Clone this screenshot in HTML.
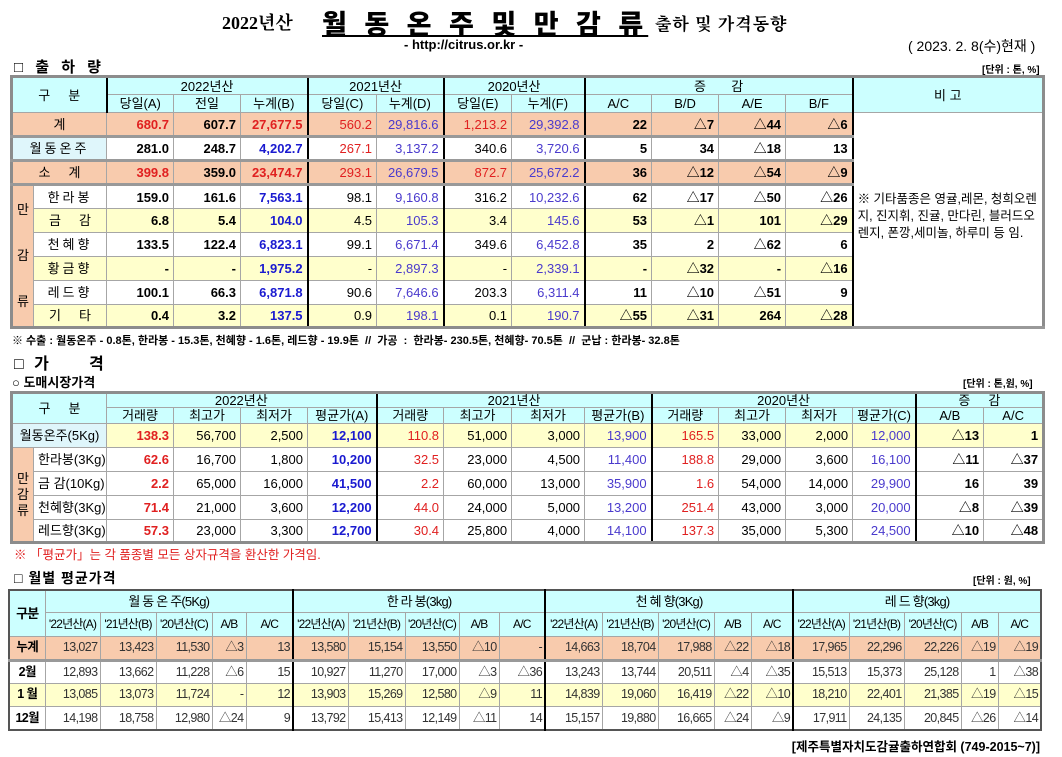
<!DOCTYPE html>
<html><head><meta charset="utf-8">
<style>
*{margin:0;padding:0;box-sizing:border-box}
body{width:1062px;height:757px;background:#fff;position:relative;overflow:hidden;font-family:"Liberation Sans","Noto Sans CJK KR",sans-serif;color:#000}
.a{position:absolute;white-space:nowrap}
table{position:absolute;border-collapse:collapse;table-layout:fixed;font-size:13px}
td{border:1px solid #a6a6a6;padding:0 4px;text-align:right;overflow:hidden;white-space:nowrap;line-height:1}
.h{background:#ccffff;text-align:center;font-size:13px}
.c{text-align:center}
.pk td{background:#f8cbad}
.yl td{background:#ffffcc}
.r{color:#e02020}.b{color:#1a1ad0}.bn{color:#4a3acd}.B{font-weight:bold}
.tk{border-right:2px solid #000}
.sep td{border-bottom:3px solid #999}
.lbl{background:#f8cbad;text-align:center;font-size:13px}
.t3 td{font-size:12.5px;color:#333;padding:0 2px;letter-spacing:-0.6px}
.t3 .h{color:#000;font-size:12px;letter-spacing:-0.8px}
</style></head><body>

<div class="a" style="left:222px;top:9px;font-size:18px;font-weight:bold;font-family:'Liberation Serif','Noto Serif CJK SC',serif">2022년산</div>
<div class="a" style="left:322px;top:3px;font-size:27px;font-weight:900;letter-spacing:5px;text-decoration:underline;text-decoration-thickness:2px">월 동 온 주 및 만 감 류</div>
<div class="a" style="left:655px;top:10px;font-size:17px;font-weight:bold;font-family:'Noto Serif CJK SC',serif;letter-spacing:1px">출하 및 가격동향</div>
<div class="a" style="left:404px;top:37px;font-size:13px;font-weight:bold">- http://citrus.or.kr -</div>
<div class="a" style="left:908px;top:36px;font-size:14px">( 2023. 2. 8(수)현재 )</div>

<div class="a" style="left:14px;top:56px;font-size:15px;font-weight:bold;letter-spacing:4px">□ 출 하 량</div>
<div class="a" style="left:982px;top:61px;font-size:10px;font-weight:bold">[단위 : 톤, %]</div>

<table style="left:10px;top:75px;width:1032px;border:3px solid #8c8c8c">
<colgroup><col style="width:22px"><col style="width:73px"><col style="width:67px"><col style="width:67px"><col style="width:67px"><col style="width:69px"><col style="width:67px"><col style="width:68px"><col style="width:73px"><col style="width:67px"><col style="width:67px"><col style="width:67px"><col style="width:67px"><col style="width:191px"></colgroup>
<tr style="height:18px"><td class="h tk" colspan="2" rowspan="2">구 &nbsp; &nbsp; 분</td><td class="h tk" colspan="3">2022년산</td><td class="h tk" colspan="2">2021년산</td><td class="h tk" colspan="2">2020년산</td><td class="h tk" colspan="4">증 &nbsp; &nbsp; &nbsp; 감</td><td class="h" rowspan="2">비 고</td></tr>
<tr style="height:18px"><td class="h">당일(A)</td><td class="h">전일</td><td class="h tk">누계(B)</td><td class="h">당일(C)</td><td class="h tk">누계(D)</td><td class="h">당일(E)</td><td class="h tk">누계(F)</td><td class="h">A/C</td><td class="h">B/D</td><td class="h">A/E</td><td class="h tk">B/F</td></tr>
<tr class="pk sep" style="height:24px"><td class="c" colspan="2">계</td><td class="r B">680.7</td><td class="B">607.7</td><td class="r B tk">27,677.5</td><td class="r">560.2</td><td class="bn tk">29,816.6</td><td class="r">1,213.2</td><td class="bn tk">29,392.8</td><td class="B">22</td><td class="B">△7</td><td class="B">△44</td><td class="B tk">△6</td><td rowspan="9" style="background:#fff;text-align:left;vertical-align:top;padding:78px 3px 0 4px;white-space:normal;line-height:17px;font-size:12.5px">※ 기타품종은 영귤,레몬, 청희오렌지, 진지휘, 진귤, 만다린, 블러드오렌지, 폰깡,세미놀, 하루미 등 임.</td></tr>
<tr class="sep" style="height:24px"><td class="c" colspan="2" style="background:#dff6fb;letter-spacing:3px">월동온주</td><td class="B">281.0</td><td class="B">248.7</td><td class="b B tk">4,202.7</td><td class="r">267.1</td><td class="bn tk">3,137.2</td><td>340.6</td><td class="bn tk">3,720.6</td><td class="B">5</td><td class="B">34</td><td class="B">△18</td><td class="B tk">13</td></tr>
<tr class="pk sep" style="height:24px"><td class="c" colspan="2">소 &nbsp; &nbsp; 계</td><td class="r B">399.8</td><td class="B">359.0</td><td class="r B tk">23,474.7</td><td class="r">293.1</td><td class="bn tk">26,679.5</td><td class="r">872.7</td><td class="bn tk">25,672.2</td><td class="B">36</td><td class="B">△12</td><td class="B">△54</td><td class="B tk">△9</td></tr>
<tr style="height:24px"><td class="lbl" rowspan="6" style="line-height:46px;padding:0">만<br>감<br>류</td><td class="c" style="letter-spacing:3px">한라봉</td><td class="B">159.0</td><td class="B">161.6</td><td class="b B tk">7,563.1</td><td>98.1</td><td class="bn tk">9,160.8</td><td>316.2</td><td class="bn tk">10,232.6</td><td class="B">62</td><td class="B">△17</td><td class="B">△50</td><td class="B tk">△26</td></tr>
<tr class="yl" style="height:24px"><td class="c">금 &nbsp; &nbsp; 감</td><td class="B">6.8</td><td class="B">5.4</td><td class="b B tk">104.0</td><td>4.5</td><td class="bn tk">105.3</td><td>3.4</td><td class="bn tk">145.6</td><td class="B">53</td><td class="B">△1</td><td class="B">101</td><td class="B tk">△29</td></tr>
<tr style="height:24px"><td class="c" style="letter-spacing:3px">천혜향</td><td class="B">133.5</td><td class="B">122.4</td><td class="b B tk">6,823.1</td><td>99.1</td><td class="bn tk">6,671.4</td><td>349.6</td><td class="bn tk">6,452.8</td><td class="B">35</td><td class="B">2</td><td class="B">△62</td><td class="B tk">6</td></tr>
<tr class="yl" style="height:24px"><td class="c" style="letter-spacing:3px">황금향</td><td class="B">-</td><td class="B">-</td><td class="b B tk">1,975.2</td><td>-</td><td class="bn tk">2,897.3</td><td>-</td><td class="bn tk">2,339.1</td><td class="B">-</td><td class="B">△32</td><td class="B">-</td><td class="B tk">△16</td></tr>
<tr style="height:24px"><td class="c" style="letter-spacing:3px">레드향</td><td class="B">100.1</td><td class="B">66.3</td><td class="b B tk">6,871.8</td><td>90.6</td><td class="bn tk">7,646.6</td><td>203.3</td><td class="bn tk">6,311.4</td><td class="B">11</td><td class="B">△10</td><td class="B">△51</td><td class="B tk">9</td></tr>
<tr class="yl" style="height:23px"><td class="c">기 &nbsp; &nbsp; 타</td><td class="B">0.4</td><td class="B">3.2</td><td class="b B tk">137.5</td><td>0.9</td><td class="bn tk">198.1</td><td>0.1</td><td class="bn tk">190.7</td><td class="B">△55</td><td class="B">△31</td><td class="B">264</td><td class="B tk">△28</td></tr>
</table>

<div class="a" style="left:12px;top:332px;font-size:11px;font-weight:bold">※ 수출 : 월동온주 - 0.8톤, 한라봉 - 15.3톤, 천혜향 - 1.6톤, 레드향 - 19.9톤 &nbsp;// &nbsp;가공 &nbsp;: &nbsp;한라봉- 230.5톤, 천혜향- 70.5톤 &nbsp;// &nbsp;군납 : 한라봉- 32.8톤</div>
<div class="a" style="left:14px;top:350px;font-size:16px;font-weight:bold;letter-spacing:3px">□ 가 &nbsp; &nbsp; 격</div>
<div class="a" style="left:12px;top:372px;font-size:13px;font-weight:bold">○ 도매시장가격</div>
<div class="a" style="left:963px;top:375px;font-size:10px;font-weight:bold">[단위 : 톤,원, %]</div>

<table style="left:10px;top:391px;width:1032px;border:3px solid #8c8c8c">
<colgroup><col style="width:22px"><col style="width:73px"><col style="width:67px"><col style="width:67px"><col style="width:67px"><col style="width:69px"><col style="width:67px"><col style="width:68px"><col style="width:73px"><col style="width:67px"><col style="width:67px"><col style="width:67px"><col style="width:67px"><col style="width:63px"><col style="width:68px"><col style="width:60px"></colgroup>
<tr style="height:15px"><td class="h" colspan="2" rowspan="2">구 &nbsp; &nbsp; 분</td><td class="h tk" colspan="4">2022년산</td><td class="h tk" colspan="4">2021년산</td><td class="h tk" colspan="4">2020년산</td><td class="h" colspan="2">증 &nbsp; &nbsp; 감</td></tr>
<tr style="height:16px"><td class="h">거래량</td><td class="h">최고가</td><td class="h">최저가</td><td class="h tk">평균가(A)</td><td class="h">거래량</td><td class="h">최고가</td><td class="h">최저가</td><td class="h tk">평균가(B)</td><td class="h">거래량</td><td class="h">최고가</td><td class="h">최저가</td><td class="h tk">평균가(C)</td><td class="h" style="border-right:1px dotted #333">A/B</td><td class="h">A/C</td></tr>
<tr class="yl" style="height:24px"><td class="c" colspan="2" style="background:#dff6fb">월동온주(5Kg)</td><td class="r B">138.3</td><td>56,700</td><td>2,500</td><td class="b B tk">12,100</td><td class="r">110.8</td><td>51,000</td><td>3,000</td><td class="bn tk">13,900</td><td class="r">165.5</td><td>33,000</td><td>2,000</td><td class="bn tk">12,000</td><td class="B" style="border-right:1px dotted #333">△13</td><td class="B">1</td></tr>
<tr style="height:24px"><td class="lbl" rowspan="4" style="line-height:16px;padding:0">만<br>감<br>류</td><td class="c">한라봉(3Kg)</td><td class="r B">62.6</td><td>16,700</td><td>1,800</td><td class="b B tk">10,200</td><td class="r">32.5</td><td>23,000</td><td>4,500</td><td class="bn tk">11,400</td><td class="r">188.8</td><td>29,000</td><td>3,600</td><td class="bn tk">16,100</td><td class="B">△11</td><td class="B">△37</td></tr>
<tr style="height:24px"><td class="c">금 감(10Kg)</td><td class="r B">2.2</td><td>65,000</td><td>16,000</td><td class="b B tk">41,500</td><td class="r">2.2</td><td>60,000</td><td>13,000</td><td class="bn tk">35,900</td><td class="r">1.6</td><td>54,000</td><td>14,000</td><td class="bn tk">29,900</td><td class="B">16</td><td class="B">39</td></tr>
<tr style="height:24px"><td class="c">천혜향(3Kg)</td><td class="r B">71.4</td><td>21,000</td><td>3,600</td><td class="b B tk">12,200</td><td class="r">44.0</td><td>24,000</td><td>5,000</td><td class="bn tk">13,200</td><td class="r">251.4</td><td>43,000</td><td>3,000</td><td class="bn tk">20,000</td><td class="B">△8</td><td class="B">△39</td></tr>
<tr style="height:23px"><td class="c">레드향(3Kg)</td><td class="r B">57.3</td><td>23,000</td><td>3,300</td><td class="b B tk">12,700</td><td class="r">30.4</td><td>25,800</td><td>4,000</td><td class="bn tk">14,100</td><td class="r">137.3</td><td>35,000</td><td>5,300</td><td class="bn tk">24,500</td><td class="B">△10</td><td class="B">△48</td></tr>
</table>

<div class="a" style="left:14px;top:544px;font-size:12.5px;color:#e02020">※ 「평균가」는 각 품종별 모든 상자규격을 환산한 가격임.</div>
<div class="a" style="left:14px;top:568px;font-size:14px;font-weight:bold;letter-spacing:1px">□ 월별 평균가격</div>
<div class="a" style="left:973px;top:572px;font-size:10px;font-weight:bold">[단위 : 원, %]</div>

<table class="t3" style="left:8px;top:589px;width:1034px;border:2px solid #555">
<colgroup><col style="width:36px"><col style="width:55px"><col style="width:56px"><col style="width:56px"><col style="width:34px"><col style="width:47px"><col style="width:55px"><col style="width:57px"><col style="width:54px"><col style="width:40px"><col style="width:46px"><col style="width:57px"><col style="width:56px"><col style="width:56px"><col style="width:37px"><col style="width:42px"><col style="width:56px"><col style="width:55px"><col style="width:57px"><col style="width:37px"><col style="width:43px"></colgroup>
<tr style="height:22px"><td class="h B" rowspan="2" style="font-size:13px">구분</td><td class="h tk" colspan="5" style="font-size:13px">월 동 온 주(5Kg)</td><td class="h tk" colspan="5" style="font-size:13px">한 라 봉(3kg)</td><td class="h tk" colspan="5" style="font-size:13px">천 혜 향(3Kg)</td><td class="h" colspan="5" style="font-size:13px">레 드 향(3kg)</td></tr>
<tr style="height:24px"><td class="h">'22년산(A)</td><td class="h">'21년산(B)</td><td class="h">'20년산(C)</td><td class="h">A/B</td><td class="h tk">A/C</td><td class="h">'22년산(A)</td><td class="h">'21년산(B)</td><td class="h">'20년산(C)</td><td class="h">A/B</td><td class="h tk">A/C</td><td class="h">'22년산(A)</td><td class="h">'21년산(B)</td><td class="h">'20년산(C)</td><td class="h">A/B</td><td class="h tk">A/C</td><td class="h">'22년산(A)</td><td class="h">'21년산(B)</td><td class="h">'20년산(C)</td><td class="h">A/B</td><td class="h">A/C</td></tr>
<tr class="pk sep" style="height:24px"><td class="c B" style="color:#000">누계</td><td>13,027</td><td>13,423</td><td>11,530</td><td>△3</td><td class="tk">13</td><td>13,580</td><td>15,154</td><td>13,550</td><td>△10</td><td class="tk">-</td><td>14,663</td><td>18,704</td><td>17,988</td><td>△22</td><td class="tk">△18</td><td>17,965</td><td>22,296</td><td>22,226</td><td>△19</td><td>△19</td></tr>
<tr style="height:23px"><td class="c B" style="color:#000">2월</td><td>12,893</td><td>13,662</td><td>11,228</td><td>△6</td><td class="tk">15</td><td>10,927</td><td>11,270</td><td>17,000</td><td>△3</td><td class="tk">△36</td><td>13,243</td><td>13,744</td><td>20,511</td><td>△4</td><td class="tk">△35</td><td>15,513</td><td>15,373</td><td>25,128</td><td>1</td><td>△38</td></tr>
<tr class="yl" style="height:23px"><td class="c B" style="color:#000">1 월</td><td>13,085</td><td>13,073</td><td>11,724</td><td>-</td><td class="tk">12</td><td>13,903</td><td>15,269</td><td>12,580</td><td>△9</td><td class="tk">11</td><td>14,839</td><td>19,060</td><td>16,419</td><td>△22</td><td class="tk">△10</td><td>18,210</td><td>22,401</td><td>21,385</td><td>△19</td><td>△15</td></tr>
<tr style="height:24px"><td class="c B" style="color:#000">12월</td><td>14,198</td><td>18,758</td><td>12,980</td><td>△24</td><td class="tk">9</td><td>13,792</td><td>15,413</td><td>12,149</td><td>△11</td><td class="tk">14</td><td>15,157</td><td>19,880</td><td>16,665</td><td>△24</td><td class="tk">△9</td><td>17,911</td><td>24,135</td><td>20,845</td><td>△26</td><td>△14</td></tr>
</table>

<div class="a" style="right:22px;top:736px;font-size:12.5px;font-weight:bold">[제주특별자치도감귤출하연합회 (749-2015~7)]</div>
</body></html>
